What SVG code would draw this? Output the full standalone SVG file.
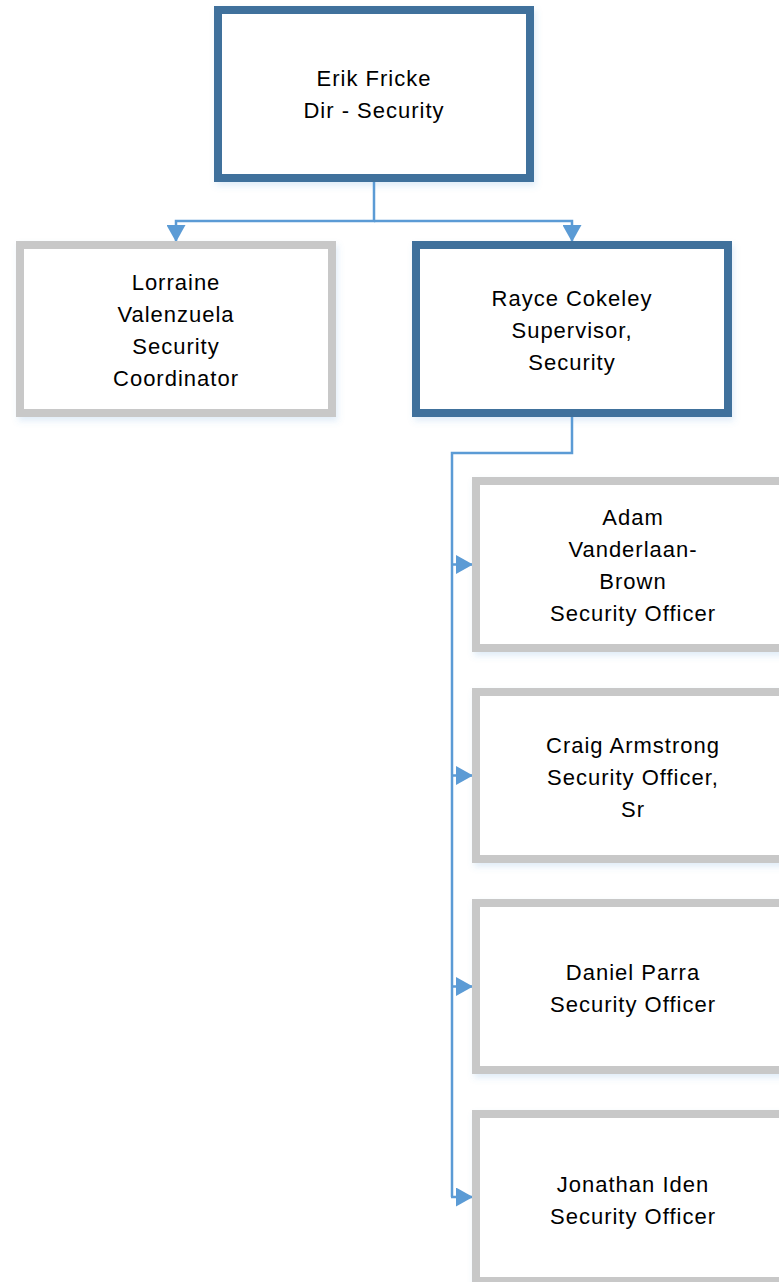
<svg xmlns="http://www.w3.org/2000/svg" width="779" height="1282" viewBox="0 0 779 1282">
<style>
.lead{fill:#fff;stroke:#41719C;stroke-width:8;filter:url(#sh)}
.staff{fill:#fff;stroke:#C8C8C8;stroke-width:8;filter:url(#sh)}
.lbl{font-family:"Liberation Sans",Arial,sans-serif;font-size:22px;letter-spacing:1px;fill:#000;text-anchor:middle}
.conn{fill:none;stroke:#5B9BD5;stroke-width:2.5}
</style>
<defs>
<filter id="sh" x="-10%" y="-10%" width="120%" height="130%">
<feDropShadow dx="2" dy="4" stdDeviation="3" flood-color="#5B9BD5" flood-opacity="0.18"/>
</filter>
<marker id="arr" markerUnits="userSpaceOnUse" markerWidth="17" markerHeight="19" refX="16" refY="9.5" orient="auto" viewBox="0 0 17 19">
<path d="M0,0 L17,9.5 L0,19 z" fill="#5B9BD5"/>
</marker>
</defs>
<g id="connectors">
<path class="conn" d="M374,182 V221 H176 V241" marker-end="url(#arr)"/>
<path class="conn" d="M374,221 H572 V241" marker-end="url(#arr)"/>
<path class="conn" d="M572,417 V453 H452 V1197"/>
<path class="conn" d="M452,564.5 H472" marker-end="url(#arr)"/>
<path class="conn" d="M452,775.5 H472" marker-end="url(#arr)"/>
<path class="conn" d="M452,986.5 H472" marker-end="url(#arr)"/>
<path class="conn" d="M451,1197 H472" marker-end="url(#arr)"/>
</g>
<g id="erik">
<rect class="lead" x="218" y="10" width="312" height="168"/>
<text class="lbl" x="374" y="86">Erik Fricke</text>
<text class="lbl" x="374" y="118">Dir - Security</text>
</g>
<g id="lorraine">
<rect class="staff" x="20" y="245" width="312" height="168"/>
<text class="lbl" x="176" y="290">Lorraine</text>
<text class="lbl" x="176" y="322">Valenzuela</text>
<text class="lbl" x="176" y="354">Security</text>
<text class="lbl" x="176" y="386">Coordinator</text>
</g>
<g id="rayce">
<rect class="lead" x="416" y="245" width="312" height="168"/>
<text class="lbl" x="572" y="306">Rayce Cokeley</text>
<text class="lbl" x="572" y="338">Supervisor,</text>
<text class="lbl" x="572" y="370">Security</text>
</g>
<g id="adam">
<rect class="staff" x="476" y="481" width="312" height="167"/>
<text class="lbl" x="633" y="525">Adam</text>
<text class="lbl" x="633" y="557">Vanderlaan-</text>
<text class="lbl" x="633" y="589">Brown</text>
<text class="lbl" x="633" y="621">Security Officer</text>
</g>
<g id="craig">
<rect class="staff" x="476" y="692" width="312" height="167"/>
<text class="lbl" x="633" y="753">Craig Armstrong</text>
<text class="lbl" x="633" y="785">Security Officer,</text>
<text class="lbl" x="633" y="817">Sr</text>
</g>
<g id="daniel">
<rect class="staff" x="476" y="903" width="312" height="167"/>
<text class="lbl" x="633" y="980">Daniel Parra</text>
<text class="lbl" x="633" y="1012">Security Officer</text>
</g>
<g id="jonathan">
<rect class="staff" x="476" y="1114" width="312" height="167"/>
<text class="lbl" x="633" y="1192">Jonathan Iden</text>
<text class="lbl" x="633" y="1224">Security Officer</text>
</g>
</svg>
